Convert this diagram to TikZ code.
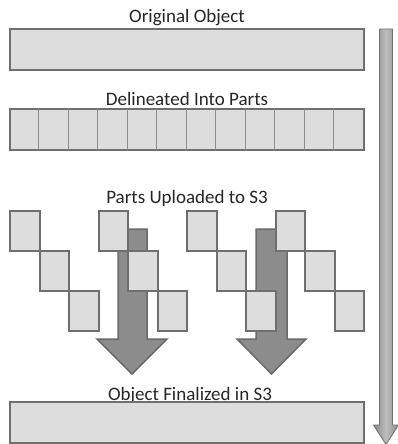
\documentclass[tikz,border=0pt]{standalone}
\usepackage{fontspec}
\setmainfont{Carlito}
\usetikzlibrary{calc}
\begin{document}
\begin{tikzpicture}[x=1pt,y=-1pt,
  partfill/.style={fill=boxgray, draw=edgegray, line width=2pt},
  partbox/.style={partfill, rectangle, inner sep=0pt, minimum width=29.5pt, minimum height=40pt},
  bar/.style={partfill, rectangle, inner sep=0pt, minimum width=354pt, minimum height=41pt},
  caption/.style={anchor=base, inner sep=0pt, text=textgray, font=\fontsize{19}{22}\selectfont},
  blockarrow/.style={fill=arrowgray, draw=arrowedge, line width=1.5pt, line join=miter},
  divider/.style={draw=edgegray!80, line width=0.8pt}
]
\definecolor{boxgray}{HTML}{DDDDDD}
\definecolor{edgegray}{HTML}{6F6F6F}
\definecolor{arrowgray}{HTML}{8C8C8C}
\definecolor{arrowedge}{HTML}{6A6A6A}
\definecolor{textgray}{HTML}{262626}
\definecolor{shaftdark}{HTML}{8A8A8A}
\definecolor{shaftlight}{HTML}{BDBDBD}

\useasboundingbox (0,0) rectangle (398,444);

% captions
\node[caption] (t1) at (187,23) {Original Object};
\node[caption] (t2) at (187,105) {Delineated Into Parts};
\node[caption] (t3) at (187,203) {Parts Uploaded to S3};
\node[caption] (t4) at (190,400) {Object Finalized in S3};

% whole object
\node[bar] (orig) at (187,49.5) {};

% object split into twelve parts
\node[bar] (split) at (187,129.5) {};
\foreach \k in {1,...,11}
  \draw[divider] ($(split.north west)+(\k*29.5,1)$) -- ($(split.south west)+(\k*29.5,-1)$);

% upload arrows (behind the parts)
\draw[blockarrow] (118,229) -- (147,229) -- (147,339) -- (167,339) -- (132,374)
  -- (97,339) -- (118,339) -- cycle;
\draw[blockarrow] (256,229) -- (287,229) -- (287,339) -- (306,339) -- (271.5,374)
  -- (237,339) -- (256,339) -- cycle;

% parts uploaded in parallel, staircase pattern
\foreach \k in {0,...,11}{
  \pgfmathtruncatemacro{\row}{mod(\k,3)}
  \node[partbox] (p\k) at (10+14.75+\k*29.5, 231+\row*40) {};
}

% final object
\node[bar] (final) at (187,422.5) {};

% overall time arrow
\shade[left color=shaftdark, right color=shaftdark, middle color=shaftlight, draw=edgegray, line width=0.8pt]
  (379.5,29) -- (392.5,29) -- (392.5,425) -- (398.5,425) -- (386,444.5)
  -- (373.5,425) -- (379.5,425) -- cycle;
\end{tikzpicture}
\end{document}
